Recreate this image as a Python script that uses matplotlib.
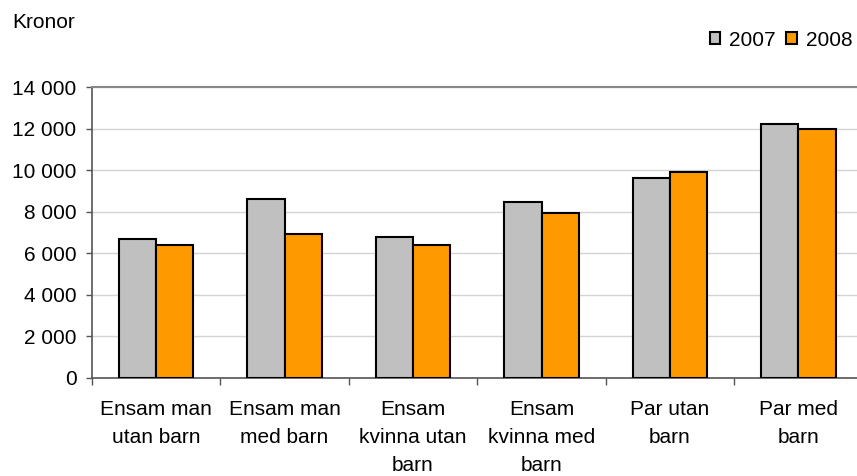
import matplotlib
matplotlib.use("Agg")
import matplotlib.pyplot as plt
from matplotlib.patches import Patch
import numpy as np

categories = [
    "Ensam man\nutan barn",
    "Ensam man\nmed barn",
    "Ensam\nkvinna utan\nbarn",
    "Ensam\nkvinna med\nbarn",
    "Par utan\nbarn",
    "Par med\nbarn",
]
years = ["2007", "2008"]
values_2007 = [6700, 8600, 6800, 8450, 9600, 12200]
values_2008 = [6400, 6900, 6400, 7950, 9900, 12000]
y_ticks = [0, 2000, 4000, 6000, 8000, 10000, 12000, 14000]
y_tick_labels = ["0", "2 000", "4 000", "6 000", "8 000", "10 000", "12 000", "14 000"]

plt.rcParams["font.family"] = ["Liberation Sans", "DejaVu Sans"]
FS = 15

fig = plt.figure(figsize=(8.57, 4.76), dpi=100)
ax = fig.add_axes([0.1071, 0.2065, 0.8996, 0.6107])

x = np.arange(len(categories))
w = 0.29
c07, c08 = "#c0c0c0", "#ff9900"
ax.bar(x - w / 2, values_2007, width=w, color=c07, edgecolor="black", linewidth=1.5, zorder=3)
ax.bar(x + w / 2, values_2008, width=w, color=c08, edgecolor="black", linewidth=1.5, zorder=3)

ax.set_xlim(-0.5, len(categories) - 0.5)
ax.set_ylim(0, 14000)

ax.set_yticks(y_ticks)
ax.set_yticklabels(y_tick_labels, fontsize=FS)
ax.yaxis.grid(True, color="#d4d4d4", linewidth=1.0, zorder=0)
ax.set_axisbelow(True)
ax.tick_params(axis="y", direction="out", length=4, width=1, color="#555555", pad=7)

ax.set_xticks(x)
ax.set_xticklabels(categories, fontsize=FS, linespacing=1.6)
ax.tick_params(axis="x", which="major", length=0, pad=16)
ax.set_xticks(np.arange(len(categories) + 1) - 0.5, minor=True)
ax.tick_params(axis="x", which="minor", direction="out", length=5, width=1, color="#555555")

for side in ("left", "bottom"):
    ax.spines[side].set_color("#555555")
    ax.spines[side].set_linewidth(1.2)
ax.spines["top"].set_color("#888888")
ax.spines["top"].set_linewidth(1.5)
ax.spines["right"].set_visible(False)

fig.text(12 / 857, 1 - 28.5 / 476, "Kronor", fontsize=FS, va="baseline", ha="left")

handles = [Patch(facecolor=c07, edgecolor="black", linewidth=1.5),
           Patch(facecolor=c08, edgecolor="black", linewidth=1.5)]
fig.legend(handles, years, loc="center right", bbox_to_anchor=(1.0, 1 - 40 / 476),
           ncol=2, frameon=False, fontsize=FS, handlelength=0.5, handleheight=0.5,
           handletextpad=0.45, columnspacing=0.5, borderaxespad=0, borderpad=0.2)

fig.savefig("out.png", dpi=100)
